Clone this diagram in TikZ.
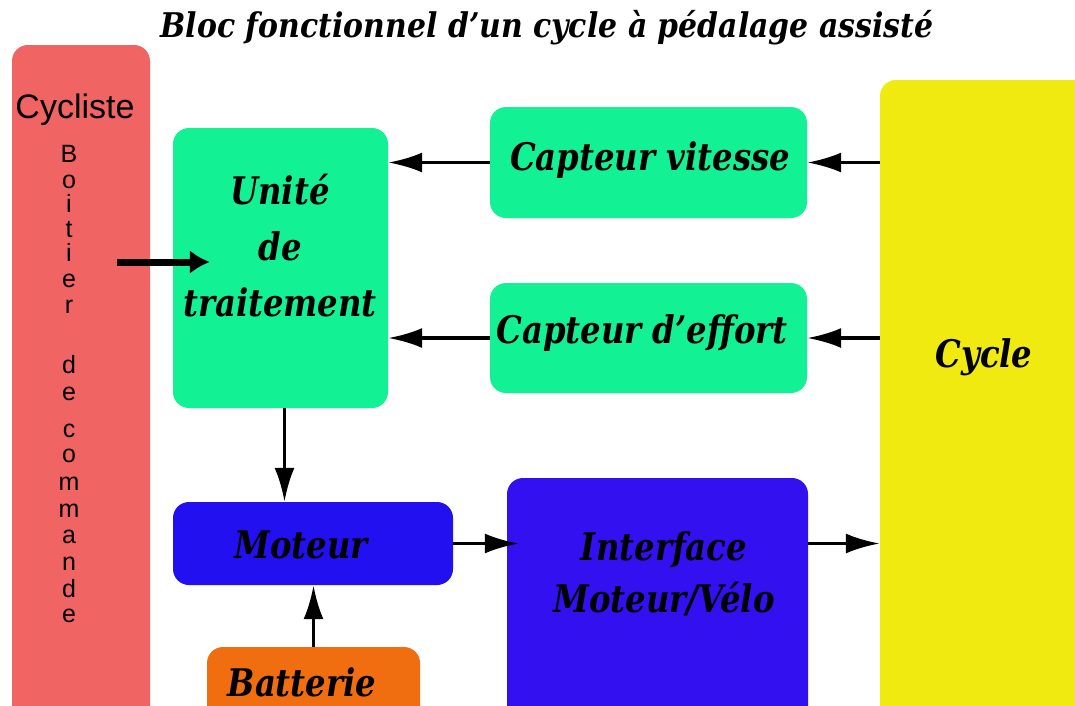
\documentclass[tikz,border=0pt]{standalone}
\usepackage{fontspec}
\setmainfont{DejaVu Serif}
\setsansfont{Liberation Sans}
\newfontfamily\blocfont{DejaVu Serif}[FakeStretch=0.85]
\newfontfamily\titrefont{DejaVu Serif}[FakeStretch=0.88]
\usetikzlibrary{arrows.meta}
\definecolor{rouge}{RGB}{240,100,100}
\definecolor{vert}{RGB}{18,242,148}
\definecolor{jaune}{RGB}{240,234,16}
\definecolor{bleumot}{RGB}{34,16,240}
\definecolor{bleuint}{RGB}{50,16,240}
\definecolor{orange}{RGB}{240,110,16}
\begin{document}
\begin{tikzpicture}[x=1pt,y=-1pt,
    bloc/.style={rounded corners=16pt,inner sep=0pt},
    etiquette/.style={font=\blocfont\fontsize{38}{56}\selectfont\bfseries\itshape,align=center,inner sep=0pt},
    lien/.style={line width=3.5pt,->},
    >={Latex[length=34pt,width=20pt]}]
  \useasboundingbox (0,0) rectangle (1075,705);
  \clip (0,0) rectangle (1075,705);
  % titre
  \node[font=\titrefont\fontsize{34}{40}\selectfont\bfseries\itshape] (titre) at (547,28) {Bloc fonctionnel d’un cycle à pédalage assisté};
  % blocs
  \node[bloc,fill=rouge,minimum width=138pt,minimum height=680pt] (cycliste) at (81,385) {};
  \node[bloc,fill=vert,minimum width=215pt,minimum height=280pt] (unite) at (280.5,268) {};
  \node[bloc,fill=vert,minimum width=317pt,minimum height=111pt] (vitesse) at (648.5,162.5) {};
  \node[bloc,fill=vert,minimum width=317pt,minimum height=110pt] (effort) at (648.5,338) {};
  \node[bloc,fill=jaune,minimum width=215pt,minimum height=645pt] (cycle) at (987.5,402.5) {};
  \node[bloc,fill=bleumot,minimum width=280pt,minimum height=83pt] (moteur) at (313,543.5) {};
  \node[bloc,fill=bleuint,minimum width=301pt,minimum height=247pt] (interface) at (657.5,601.5) {};
  \node[bloc,fill=orange,minimum width=213pt,minimum height=78pt] (batterie) at (313.5,686) {};
  % textes
  \node[font=\sffamily\fontsize{34}{38}\selectfont] (tcycliste) at (75,110) {Cycliste};
  \foreach \lettre/\y [count=\i] in {B/162,o/188,i/212,t/237,i/261,e/287,r/313,d/373,e/400,c/437,o/462,m/490,m/517,a/543,n/570,d/597,e/622}
    \node[font=\sffamily\fontsize{25}{26}\selectfont,anchor=base,inner sep=0pt] (boitier\i) at (69,\y) {\lettre};
  \node[etiquette] (tunite) at (280,246) {Unité\\de\\traitement};
  \node[etiquette] (tvitesse) at (650,160) {Capteur vitesse};
  \node[etiquette] (teffort) at (642,333) {Capteur d’effort};
  \node[etiquette] (tcycle) at (984,357) {Cycle};
  \node[etiquette] (tmoteur) at (301,545) {Moteur};
  \node[etiquette,font=\blocfont\fontsize{38}{52}\selectfont\bfseries\itshape] (tinterface) at (664,574) {Interface\\Moteur/Vélo};
  \node[etiquette] (tbatterie) at (302,682) {Batterie};
  % liaisons
  \coordinate (boitier) at (117,262);
  \draw[line width=7pt,-{Latex[length=20pt,width=24pt]}] (boitier) -- ([xshift=37pt]unite.west |- boitier);
  \draw[lien] (vitesse.west) -- (unite.east |- vitesse.west);
  \draw[lien] (effort.west) -- (unite.east |- effort.west);
  \draw[lien] (cycle.west |- vitesse.east) -- (vitesse.east);
  \draw[lien] (cycle.west |- effort.east) -- (effort.east);
  \draw[lien] ([xshift=4pt]unite.south) -- ([xshift=4pt]unite.south |- moteur.north);
  \draw[lien] (batterie.north) -- (batterie.north |- moteur.south);
  \draw[lien] (moteur.east) -- ([xshift=12pt]interface.west |- moteur.east);
  \draw[lien] (interface.east |- moteur.east) -- (cycle.west |- moteur.east);
\end{tikzpicture}
\end{document}
